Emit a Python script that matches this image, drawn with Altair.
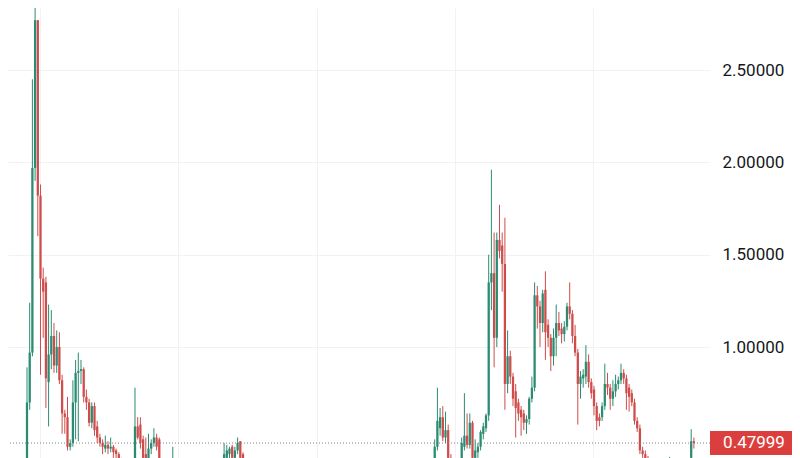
import altair as alt
import pandas as pd

# ---- candle data ----
bar_index = (list(range(10, 46)) + list(range(50, 60)) + [64] + list(range(83, 91))
             + list(range(161, 168)) + list(range(171, 241)) + [248, 256, 257])

open_ = [
    0.35, 0.70, 0.97, 1.97, 2.77, 1.82, 1.37, 1.35, 0.81, 0.96, 1.06, 0.90, 1.00, 0.82, 0.64, 0.62, 0.46, 0.48,
    0.70, 0.86, 0.87, 0.88, 0.73, 0.70, 0.59, 0.68, 0.57, 0.51, 0.48, 0.45, 0.47, 0.45, 0.46, 0.44, 0.42, 0.38,
    0.36, 0.57, 0.58, 0.50, 0.42, 0.39, 0.45, 0.48, 0.51, 0.50,
    0.30,
    0.36, 0.40, 0.42, 0.46, 0.40, 0.44, 0.49, 0.42,
    0.38, 0.46, 0.56, 0.62, 0.51, 0.55, 0.40,
    0.38, 0.46, 0.52, 0.47, 0.59, 0.40, 0.43, 0.46, 0.53, 0.56,
    0.63, 1.35, 1.40, 1.05, 1.58, 1.55, 1.45, 0.80, 0.95, 0.84,
    0.76, 0.70, 0.66, 0.64, 0.59, 0.61, 0.72, 0.78, 1.28, 1.22,
    1.13, 1.31, 1.12, 1.05, 0.95, 1.05, 1.13, 1.10, 1.07, 1.11,
    1.22, 1.18, 1.06, 0.97, 0.80, 0.83, 0.84, 0.92, 0.81, 0.77,
    0.68, 0.62, 0.62, 0.68, 0.80, 0.78, 0.72, 0.76, 0.80, 0.82,
    0.86, 0.83, 0.78, 0.75, 0.70, 0.60, 0.56, 0.44, 0.42, 0.39,
    0.33, 0.40, 0.49,
]
high = [
    0.89, 1.24, 2.45, 2.95, 2.77, 1.88, 1.43, 1.38, 1.23, 1.20, 1.13, 1.09, 1.08, 0.85, 0.66, 0.73, 0.50, 0.82,
    0.93, 0.97, 0.93, 0.89, 0.77, 0.72, 0.70, 0.70, 0.60, 0.53, 0.50, 0.52, 0.49, 0.51, 0.47, 0.45, 0.43, 0.40,
    0.78, 0.62, 0.62, 0.52, 0.51, 0.53, 0.50, 0.56, 0.53, 0.51,
    0.46,
    0.48, 0.47, 0.46, 0.47, 0.46, 0.51, 0.49, 0.43,
    0.50, 0.78, 0.67, 0.68, 0.65, 0.58, 0.42,
    0.51, 0.75, 0.64, 0.64, 0.60, 0.50, 0.48, 0.55, 0.59, 0.64,
    1.50, 1.96, 1.62, 1.62, 1.77, 1.62, 1.70, 1.09, 0.98, 0.86,
    0.80, 0.72, 0.68, 0.66, 0.63, 0.73, 0.84, 1.35, 1.33, 1.25,
    1.31, 1.41, 1.15, 1.07, 1.10, 1.23, 1.19, 1.13, 1.14, 1.24,
    1.35, 1.20, 1.12, 0.99, 0.87, 0.88, 1.01, 0.96, 0.83, 0.79,
    0.70, 0.64, 0.70, 0.91, 0.86, 0.80, 0.82, 0.85, 0.84, 0.91,
    0.88, 0.85, 0.80, 0.77, 0.72, 0.62, 0.58, 0.46, 0.44, 0.41,
    0.405, 0.555, 0.51,
]
low = [
    0.30, 0.66, 0.95, 1.90, 1.60, 0.85, 1.05, 0.67, 0.57, 0.88, 0.86, 0.86, 0.80, 0.53, 0.53, 0.44, 0.44, 0.46,
    0.50, 0.49, 0.80, 0.70, 0.66, 0.57, 0.56, 0.52, 0.48, 0.46, 0.42, 0.43, 0.42, 0.43, 0.40, 0.39, 0.35, 0.33,
    0.34, 0.50, 0.45, 0.38, 0.36, 0.37, 0.42, 0.46, 0.44, 0.36,
    0.28,
    0.33, 0.36, 0.38, 0.38, 0.38, 0.42, 0.38, 0.36,
    0.36, 0.44, 0.52, 0.49, 0.48, 0.38, 0.33,
    0.36, 0.44, 0.45, 0.45, 0.36, 0.38, 0.40, 0.44, 0.50, 0.54,
    0.60, 1.20, 0.89, 1.00, 1.48, 1.30, 0.66, 0.75, 0.80, 0.68,
    0.51, 0.60, 0.52, 0.55, 0.53, 0.58, 0.70, 0.76, 1.10, 1.00,
    1.08, 0.93, 1.00, 0.87, 0.90, 0.95, 1.06, 1.02, 1.03, 1.09,
    1.15, 1.02, 0.95, 0.58, 0.72, 0.78, 0.80, 0.78, 0.72, 0.63,
    0.55, 0.57, 0.60, 0.66, 0.74, 0.66, 0.68, 0.73, 0.77, 0.80,
    0.80, 0.66, 0.65, 0.68, 0.58, 0.54, 0.42, 0.40, 0.37, 0.33,
    0.30, 0.38, 0.45,
]
close = [
    0.70, 0.97, 1.97, 2.77, 1.82, 1.37, 1.30, 0.83, 0.96, 1.06, 0.90, 1.00, 0.82, 0.64, 0.62, 0.46, 0.48, 0.70,
    0.86, 0.87, 0.88, 0.73, 0.70, 0.59, 0.68, 0.55, 0.51, 0.48, 0.46, 0.47, 0.45, 0.46, 0.43, 0.42, 0.38, 0.35,
    0.57, 0.51, 0.48, 0.40, 0.38, 0.45, 0.48, 0.51, 0.46, 0.38,
    0.38,
    0.42, 0.44, 0.45, 0.40, 0.44, 0.48, 0.40, 0.38,
    0.46, 0.60, 0.62, 0.51, 0.55, 0.40, 0.35,
    0.48, 0.52, 0.47, 0.59, 0.40, 0.44, 0.46, 0.54, 0.57, 0.63,
    1.35, 1.40, 1.05, 1.58, 1.52, 1.45, 0.80, 0.95, 0.84, 0.72,
    0.67, 0.64, 0.62, 0.59, 0.61, 0.72, 0.78, 1.28, 1.22, 1.13,
    1.29, 1.08, 1.05, 0.95, 1.05, 1.13, 1.09, 1.07, 1.11, 1.22,
    1.18, 1.06, 0.97, 0.80, 0.84, 0.85, 0.92, 0.81, 0.75, 0.68,
    0.60, 0.60, 0.68, 0.80, 0.78, 0.72, 0.76, 0.80, 0.82, 0.86,
    0.83, 0.75, 0.73, 0.70, 0.60, 0.56, 0.44, 0.42, 0.39, 0.35,
    0.35, 0.49, 0.47999,
]

price_ticks = [1.0, 1.5, 2.0, 2.5]
time_grid = [14.8, 66.0, 117.3, 168.6, 219.8]
last_price = close[-1]

UP = "#2b8c71"
DOWN = "#cf4c4b"
BOX = "#db3f3d"
GRID = "#f0f2f5"
FONT = "Roboto"

df = pd.DataFrame({"i": bar_index, "o": open_, "h": high, "l": low, "c": close})
df["dir"] = ["up" if c >= o else "down" for o, c in zip(df.o, df.c)]
df["top"] = df[["o", "c"]].max(axis=1)
df["bot"] = df[["o", "c"]].min(axis=1)

xs = alt.Scale(domain=[2.963, 262.963], nice=False, zero=False)
ys = alt.Scale(domain=[0.399, 2.836], nice=False, zero=False)
col = alt.Color("dir:N", scale=alt.Scale(domain=["up", "down"], range=[UP, DOWN]), legend=None)

xaxis = alt.Axis(values=time_grid, grid=True, gridColor=GRID, labels=False, ticks=False,
                 domain=False, title=None)
yaxis = alt.Axis(orient="right", values=price_ticks, format=".5f", grid=True, gridColor=GRID,
                 ticks=False, domain=False, title=None, labelFont=FONT, labelFontSize=17,
                 labelColor="#131722", labelPadding=12, labelAlign="left")

base = alt.Chart(df)
wick = base.mark_rule(clip=True, strokeWidth=1).encode(
    x=alt.X("i:Q", scale=xs, axis=xaxis),
    y=alt.Y("l:Q", scale=ys, axis=yaxis),
    y2="h:Q",
    color=col,
)
body = base.transform_calculate(
    x1="datum.i - 0.42", x2="datum.i + 0.42"
).mark_bar(clip=True).encode(
    x=alt.X("x1:Q", scale=xs),
    x2="x2:Q",
    y=alt.Y("bot:Q", scale=ys),
    y2="top:Q",
    color=col,
)

pdf = pd.DataFrame({"p": [last_price], "label": [f"{last_price:.5f}"]})
pline = alt.Chart(pdf).mark_rule(strokeDash=[1, 2], color="#7d808a", strokeWidth=1, clip=True).encode(
    y=alt.Y("p:Q", scale=ys)
)
pbox = alt.Chart(pdf).mark_rect(color=BOX, yOffset=-12, y2Offset=12).encode(
    y=alt.Y("p:Q", scale=ys), y2="p:Q", x=alt.value(702), x2=alt.value(784)
)
ptext = alt.Chart(pdf).mark_text(color="white", font=FONT, fontSize=17, align="center",
                                 baseline="middle").encode(
    y=alt.Y("p:Q", scale=ys), x=alt.value(746), text="label:N"
)

chart = alt.layer(wick, body, pline, pbox, ptext).properties(
    width=702, height=450, autosize="none",
    padding={"left": 0, "top": 0, "right": 82, "bottom": 0},
    background="white",
).configure_view(stroke=None)

chart.save("out.html", embed_options={"renderer": "svg", "actions": False})
